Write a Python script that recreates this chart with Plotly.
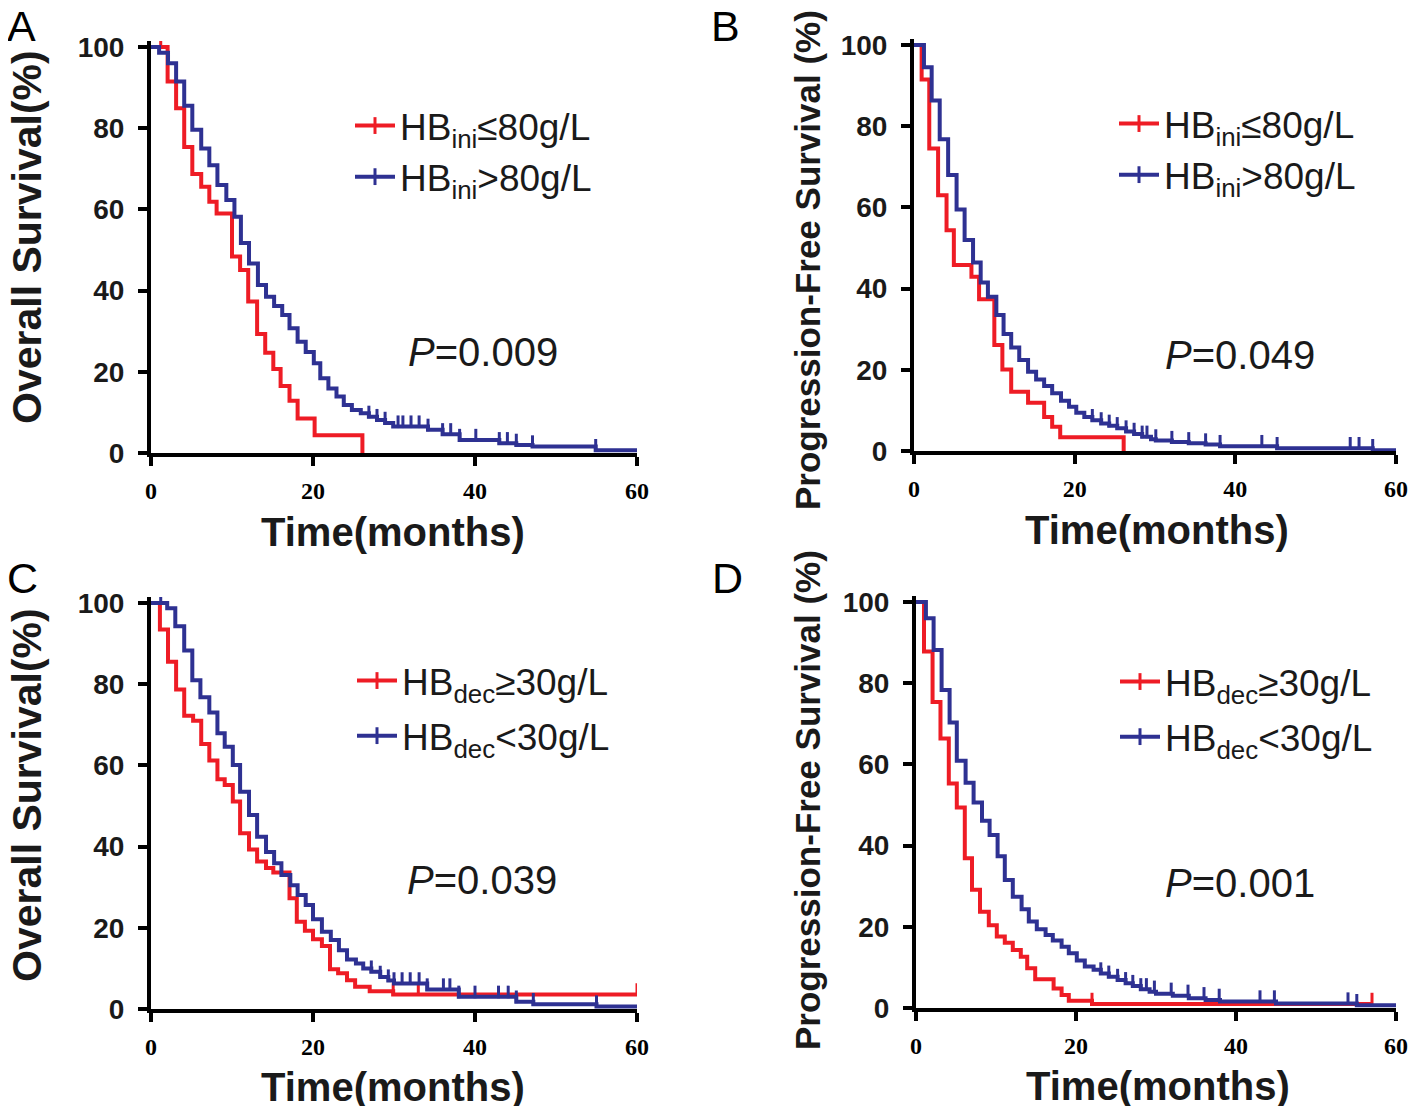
import bisect
import plotly.graph_objects as go

# --- data ------------------------------------------------------------------
# Panel A: overall survival by initial Hb
a_low_t = [0, 2.05, 3.1, 4.1, 5.1, 6.2, 7.2, 8.1, 10.0, 11.0, 12.0, 13.1, 14.1, 15.1, 16.0, 17.1, 18.1, 20.2, 26.1]
a_low_s = [100, 91.5, 84.9, 75.4, 68.7, 65.6, 61.9, 59.0, 48.4, 45.1, 37.3, 29.3, 24.7, 20.7, 16.5, 12.9, 8.5, 4.4, 0]
a_low_cens = [1.2]
a_high_t = [0, 1.0, 2.1, 3.1, 4.1, 5.1, 6.2, 7.2, 8.2, 9.3, 10.3, 11.1, 12.1, 13.2, 14.2, 15.2, 16.2, 17.1, 18.1,
            19.1, 20.1, 20.9, 21.9, 22.9, 23.8, 24.8, 25.9, 26.9, 27.9, 28.9, 29.9, 34.2, 36.0, 38.1, 43.0, 45.1,
            47.1, 54.9, 60]
a_high_s = [100, 98.6, 96.0, 91.5, 85.5, 79.6, 75.0, 70.9, 66.0, 62.3, 58.2, 51.7, 46.7, 41.4, 38.5, 36.2, 34.0,
            30.7, 27.4, 24.9, 22.1, 18.4, 15.9, 13.9, 11.8, 10.6, 9.8, 8.9, 8.1, 7.4, 6.5, 5.7, 4.6, 3.2, 2.4, 2.0,
            1.6, 0.7, 0.7]
a_high_cens = [26.9, 27.9, 28.9, 30.5, 31.1, 32.1, 33.1, 34.2, 36.0, 37.0, 38.1, 40.1, 43.0, 44.0, 45.1, 47.1, 54.9]

# Panel B: progression-free survival by initial Hb
b_low_t = [0, 0.95, 1.9, 3.0, 4.05, 4.96, 7.15, 8.1, 10.0, 11.0, 12.1, 14.2, 16.2, 17.2, 18.2, 26.1]
b_low_s = [100, 91.5, 74.5, 63.0, 54.4, 45.8, 42.9, 37.4, 26.1, 20.1, 14.6, 11.9, 8.4, 6.0, 3.4, 0]
b_low_cens = []
b_high_t = [0, 1.24, 2.2, 3.2, 4.25, 5.3, 6.3, 7.35, 8.3, 9.2, 10.25, 11.15, 12.1, 13.1, 14.2, 15.2, 16.2, 17.2,
            18.3, 19.3, 20.2, 21.2, 22.2, 23.3, 24.3, 25.3, 26.4, 27.4, 28.4, 29.5, 30.1, 32.1, 34.2, 36.3, 38.1,
            45.2, 57.1, 60]
b_high_s = [100, 94.5, 86.3, 76.8, 68.0, 59.5, 52.0, 46.4, 41.5, 38.0, 33.5, 28.8, 25.5, 22.4, 19.5, 17.6, 16.0,
            14.2, 12.4, 10.9, 9.4, 8.4, 7.6, 6.8, 6.2, 5.6, 4.8, 4.2, 3.5, 2.9, 2.6, 2.2, 1.9, 1.6, 1.2, 0.7, 0.2, 0.2]
b_high_cens = [22.2, 23.3, 24.3, 25.3, 26.4, 27.4, 28.4, 29.0, 30.1, 32.1, 34.2, 36.3, 38.1, 43.3, 45.2, 54.3,
               55.4, 57.1]

# Panel C: overall survival by Hb decrease
c_high_t = [0, 1.1, 2.1, 3.1, 4.1, 5.2, 6.2, 7.2, 8.2, 9.1, 10.1, 11.0, 12.1, 13.1, 14.2, 15.1, 17.1, 18.0, 19.0,
            20.0, 21.1, 22.1, 23.1, 24.2, 25.2, 27.0, 29.9, 60]
c_high_s = [100, 93.5, 85.5, 78.7, 72.2, 71.0, 65.3, 61.2, 56.6, 55.2, 51.1, 43.3, 39.3, 36.3, 34.7, 33.6, 27.3,
            21.5, 19.3, 17.2, 15.5, 9.8, 8.8, 7.1, 5.5, 4.4, 3.6, 3.6]
c_high_cens = [29.9, 33.0, 60]
c_low_t = [0, 2.0, 3.0, 4.1, 5.1, 6.1, 7.2, 8.2, 9.1, 10.1, 11.0, 12.1, 13.1, 14.2, 15.2, 16.1, 17.2, 18.1, 19.1,
           20.0, 21.1, 22.2, 23.2, 24.2, 25.3, 26.2, 27.2, 28.3, 29.3, 30.0, 34.1, 38.0, 45.1, 47.2, 55.0, 60]
c_low_s = [100, 98.7, 94.3, 88.3, 81.0, 76.8, 73.0, 67.9, 64.6, 60.1, 53.5, 47.8, 42.4, 38.7, 35.9, 33.0, 30.5,
           28.1, 25.6, 22.1, 19.0, 17.0, 14.5, 12.2, 11.2, 10.0, 9.2, 7.9, 7.0, 6.3, 4.8, 3.0, 1.8, 1.2, 0.6, 0.6]
c_low_cens = [1.2, 27.2, 28.3, 29.3, 30.0, 31.0, 32.0, 33.1, 34.1, 36.1, 36.9, 38.0, 40.0, 42.9, 44.1, 45.1,
              47.2, 55.0]

# Panel D: progression-free survival by Hb decrease
d_high_t = [0, 1.0, 2.07, 3.06, 4.1, 5.1, 6.1, 7.0, 8.0, 9.1, 10.1, 11.1, 12.1, 13.1, 13.9, 14.9, 17.2, 18.2,
            19.1, 22.0, 57.0]
d_high_s = [100, 87.8, 75.4, 66.4, 55.3, 49.4, 36.9, 29.1, 23.7, 20.4, 17.6, 16.1, 14.3, 12.6, 9.8, 7.1, 4.8, 3.2,
            1.8, 1.0, 1.0]
d_high_cens = [22.0, 57.0]
d_low_t = [0, 1.24, 2.2, 3.2, 4.2, 5.1, 6.2, 7.2, 8.25, 9.2, 10.2, 11.1, 12.1, 13.2, 14.1, 15.1, 16.2, 17.1, 18.2,
           19.1, 20.1, 21.1, 22.2, 23.1, 24.1, 25.2, 26.2, 27.1, 28.1, 29.2, 30.0, 32.1, 34.1, 36.2, 38.0, 45.0,
           55.1, 60]
d_low_s = [100, 96.0, 88.2, 78.3, 70.3, 60.9, 55.5, 50.6, 46.1, 42.6, 37.4, 31.5, 27.4, 24.3, 21.3, 19.4, 18.0,
           16.6, 15.1, 13.5, 11.7, 10.2, 9.4, 8.5, 7.7, 6.9, 6.1, 5.4, 4.6, 4.0, 3.5, 3.0, 2.4, 2.0, 1.6, 1.1, 0.7,
           0.7]
d_low_cens = [23.1, 24.1, 25.2, 26.2, 27.1, 28.1, 28.8, 29.8, 31.9, 34.0, 36.0, 37.9, 43.0, 44.8, 54.0, 55.1]

p_values = ["0.009", "0.049", "0.039", "0.001"]
panel_letters = ["A", "B", "C", "D"]
legend_names = [
    ["HB<sub>ini</sub>≤80g/L", "HB<sub>ini</sub>>80g/L"],
    ["HB<sub>ini</sub>≤80g/L", "HB<sub>ini</sub>>80g/L"],
    ["HB<sub>dec</sub>≥30g/L", "HB<sub>dec</sub><30g/L"],
    ["HB<sub>dec</sub>≥30g/L", "HB<sub>dec</sub><30g/L"],
]
y_titles = ["Overall Survival(%)", "Progression-Free Survival (%)",
            "Overall Survival(%)", "Progression-Free Survival (%)"]
x_title = "Time(months)"
x_ticks = [0, 20, 40, 60]
y_ticks = [0, 20, 40, 60, 80, 100]

panels = [
    [(a_low_t, a_low_s, a_low_cens), (a_high_t, a_high_s, a_high_cens)],
    [(b_low_t, b_low_s, b_low_cens), (b_high_t, b_high_s, b_high_cens)],
    [(c_high_t, c_high_s, c_high_cens), (c_low_t, c_low_s, c_low_cens)],
    [(d_high_t, d_high_s, d_high_cens), (d_low_t, d_low_s, d_low_cens)],
]

# --- layout geometry (pixels of the 1418x1114 page) --------------------------
PAGE_W, PAGE_H = 1418, 1114
OFF = 8  # default body margin of the html page
W, H = PAGE_W - 2 * OFF, PAGE_H - 2 * OFF
RED = "#EE1C25"
BLUE = "#2E3192"
TXT = "#1a1a1a"
SANS = "Liberation Sans, Arial, sans-serif"
SERIF = "Liberation Serif, Times New Roman, serif"
YMAX = 101.5

# (x of t=0, x of t=60, y of 0 %, y of 100 %)
boxes = [(151, 637, 453, 47), (914, 1396, 451, 45), (151, 637, 1009, 603), (916, 1396, 1008, 602)]
legend_pos = [(350, 95), (1114, 93), (352, 650), (1115, 651)]
legend_gap = [0, 0, 4, 4]
ytitle_pos = [(27, 237), (807, 260), (27, 795), (807, 800)]
ytitle_size = [41, 35, 41, 35]
xtitle_pos = [(393, 532), (1157, 530), (393, 1087), (1158, 1086)]
letter_pos = [(21, 26), (725, 26), (22, 578), (727, 578)]
p_pos = [(483, 352), (1240, 355), (482, 880), (1240, 883)]


def fx(px):
    return (px - OFF) / W


def fy(py):
    return 1 - (py - OFF) / H


def surv_at(times, surv, t):
    i = bisect.bisect_right(times, t) - 1
    return surv[max(i, 0)]


fig = go.Figure()
annotations = []
layout = {}

for k, (x0, x1, y0, y100) in enumerate(boxes):
    n = "" if k == 0 else str(k + 1)
    ytop = y0 - (y0 - y100) * YMAX / 100
    layout["xaxis" + n] = dict(
        domain=[fx(x0), fx(x1)], range=[0, 60], anchor="y" + n,
        tickvals=x_ticks, ticks="outside", ticklen=9, tickwidth=4, tickcolor="black",
        showline=True, linewidth=4, linecolor="black", showgrid=False, zeroline=False,
        tickfont=dict(family=SERIF, size=24, color="black", weight="bold"),
        ticklabelstandoff=4, ticklabeloverflow="allow", automargin=False,
    )
    layout["yaxis" + n] = dict(
        domain=[fy(y0), fy(ytop)], range=[0, YMAX], anchor="x" + n,
        tickvals=y_ticks, ticks="outside", ticklen=9, tickwidth=4, tickcolor="black",
        showline=True, linewidth=4, linecolor="black", showgrid=False, zeroline=False,
        tickfont=dict(family=SANS, size=28, color=TXT, weight="bold"),
        ticklabelstandoff=8, ticklabeloverflow="allow", automargin=False,
    )
    leg = "legend" + n
    lx, ly = legend_pos[k]
    layout[leg] = dict(
        x=fx(lx), y=fy(ly), xanchor="left", yanchor="top", bgcolor="rgba(0,0,0,0)",
        font=dict(family=SANS, size=37, color=TXT), tracegroupgap=legend_gap[k], itemwidth=40,
    )

    for j, (t, s, cens) in enumerate(panels[k]):
        color = RED if j == 0 else BLUE
        fig.add_trace(go.Scatter(
            x=t, y=s, mode="lines", line=dict(color=color, width=4, shape="hv"),
            xaxis="x" + n, yaxis="y" + n, showlegend=False, hoverinfo="skip",
        ))
        if cens:
            fig.add_trace(go.Scatter(
                x=cens, y=[surv_at(t, s, c) + 1.2 for c in cens], mode="markers",
                marker=dict(symbol="line-ns", size=9, line=dict(color=color, width=3)),
                xaxis="x" + n, yaxis="y" + n, showlegend=False, hoverinfo="skip",
            ))
        # legend entry: line with a censor tick
        fig.add_trace(go.Scatter(
            x=[None], y=[None], mode="lines+markers", name=legend_names[k][j],
            line=dict(color=color, width=4),
            marker=dict(symbol="line-ns", size=12, line=dict(color=color, width=3)),
            xaxis="x" + n, yaxis="y" + n, legend=leg, legendgroup=f"{k}{j}",
        ))

    tx, ty = ytitle_pos[k]
    annotations.append(dict(
        x=fx(tx), y=fy(ty), xref="paper", yref="paper", xanchor="center", yanchor="middle",
        text=y_titles[k], textangle=-90, showarrow=False,
        font=dict(family=SANS, size=ytitle_size[k], color=TXT, weight="bold"),
    ))
    tx, ty = xtitle_pos[k]
    annotations.append(dict(
        x=fx(tx), y=fy(ty), xref="paper", yref="paper", xanchor="center", yanchor="middle",
        text=x_title, showarrow=False,
        font=dict(family=SANS, size=40, color=TXT, weight="bold"),
    ))
    tx, ty = letter_pos[k]
    annotations.append(dict(
        x=fx(tx), y=fy(ty), xref="paper", yref="paper", xanchor="center", yanchor="middle",
        text=panel_letters[k], showarrow=False,
        font=dict(family=SANS, size=43, color="black"),
    ))
    tx, ty = p_pos[k]
    annotations.append(dict(
        x=fx(tx), y=fy(ty), xref="paper", yref="paper", xanchor="center", yanchor="middle",
        text="<i>P</i>=" + p_values[k], showarrow=False,
        font=dict(family=SANS, size=40, color=TXT),
    ))

fig.update_layout(
    width=W, height=H, margin=dict(l=0, r=0, t=0, b=0, autoexpand=False),
    paper_bgcolor="white", plot_bgcolor="white",
    annotations=annotations, **layout,
)

fig.write_html("out.html")
